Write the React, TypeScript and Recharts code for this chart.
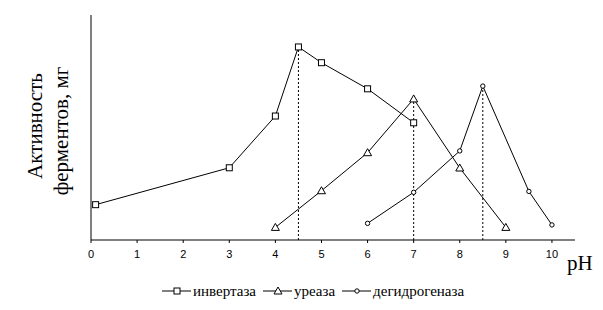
import React from 'react';
import { LineChart, Line, XAxis, YAxis, ReferenceLine } from 'recharts';

// pH values and enzyme activity (arbitrary units)
const phInvertase = [0.1, 3, 4, 4.5, 5, 6, 7];
const actInvertase = [15.7, 32.1, 55.1, 85.8, 78.8, 67.2, 52.1];
const phUrease = [4, 5, 6, 7, 8, 9];
const actUrease = [5.6, 21.9, 38.8, 62.7, 32, 5.6];
const phDehydro = [6, 7, 8, 8.5, 9.5, 10];
const actDehydro = [7.4, 21.2, 39.6, 68.4, 21.6, 6.7];
const xTicks = [0, 1, 2, 3, 4, 5, 6, 7, 8, 9, 10];
const seriesNames = ['инвертаза', 'уреаза', 'дегидрогеназа'];
const shapes = ['square', 'triangle', 'circle'];

const SERIF = "'Liberation Serif', 'Times New Roman', serif";

const series = [
  [phInvertase, actInvertase],
  [phUrease, actUrease],
  [phDehydro, actDehydro]
].map(([ph, act], i) => ({
  name: seriesNames[i],
  shape: shapes[i],
  data: ph.map((x, j) => ({ ph: x, act: act[j] }))
}));

// optimum of each enzyme -> dotted drop line
const peaks = series.map((s) =>
  s.data.reduce((a, b) => (b.act > a.act ? b : a))
);

function Marker({ shape, cx, cy }: { shape: string; cx: number; cy: number }) {
  if (shape === 'square') {
    return <rect x={cx - 3} y={cy - 3} width={6} height={6} fill="#fff" stroke="#000" strokeWidth={1} />;
  }
  if (shape === 'triangle') {
    return (
      <polygon
        points={`${cx},${cy - 4} ${cx - 4},${cy + 3} ${cx + 4},${cy + 3}`}
        fill="#fff"
        stroke="#000"
        strokeWidth={1} />);

  }
  return <circle cx={cx} cy={cy} r={2.2} fill="#fff" stroke="#000" strokeWidth={1} />;
}

export default function App() {
  return (
    <div style={{ position: 'absolute', left: 0, top: 0, width: 603, height: 310, background: '#fff' }}>
      <LineChart
        width={603}
        height={310}
        margin={{ top: 15, right: 28, bottom: 40, left: 91 }}>
        
        <XAxis
          dataKey="ph"
          type="number"
          domain={[0, 10.5]}
          ticks={xTicks}
          height={30}
          axisLine={{ stroke: '#000', strokeWidth: 1 }}
          tickLine={{ stroke: '#000' }}
          tickSize={3}
          tickMargin={7}
          tick={{ fill: '#000', fontSize: 11, fontFamily: "'Liberation Sans', Arial, sans-serif" }} />
        
        <YAxis type="number" domain={[0, 100]} hide />
        <ReferenceLine x={0} stroke="#000" strokeWidth={1} />
        {peaks.map((p, i) =>
        <ReferenceLine
          key={`drop-${i}`}
          segment={[{ x: p.ph, y: 0 }, { x: p.ph, y: p.act }]}
          stroke="#000"
          strokeDasharray="2 2" />
        )}
        {series.map((s) =>
        <Line
          key={s.name}
          name={s.name}
          data={s.data}
          dataKey="act"
          type="linear"
          stroke="#000"
          strokeWidth={1}
          isAnimationActive={false}
          dot={(props: any) =>
          <Marker key={`${s.name}-${props.index}`} shape={s.shape} cx={props.cx} cy={props.cy} />
          } />

        )}
      </LineChart>
      <svg
        width={603}
        height={310}
        style={{ position: 'absolute', left: 0, top: 0, pointerEvents: 'none' }}>
        
        <text transform="translate(42,126) rotate(-90)" textAnchor="middle" fontFamily={SERIF} fontSize={21} fill="#000">
          Активность
        </text>
        <text transform="translate(68,131) rotate(-90)" textAnchor="middle" fontFamily={SERIF} fontSize={21} fill="#000">
          ферментов, мг
        </text>
        <text x={567} y={270} fontFamily={SERIF} fontSize={21} fill="#000">pH</text>
      </svg>
      <div
        style={{
          position: 'absolute',
          left: 162,
          top: 283,
          display: 'flex',
          alignItems: 'center',
          gap: 7,
          fontFamily: SERIF,
          fontSize: 15,
          color: '#000'
        }}>
        
        {series.map((s) =>
        <div key={s.name} style={{ display: 'flex', alignItems: 'center' }}>
            <svg width={29} height={12}>
              <line x1={0} y1={6} x2={29} y2={6} stroke="#000" strokeWidth={1} />
              <Marker shape={s.shape} cx={15} cy={6} />
            </svg>
            <span style={{ marginLeft: 2, lineHeight: '16px' }}>{s.name}</span>
          </div>
        )}
      </div>
    </div>);

}
